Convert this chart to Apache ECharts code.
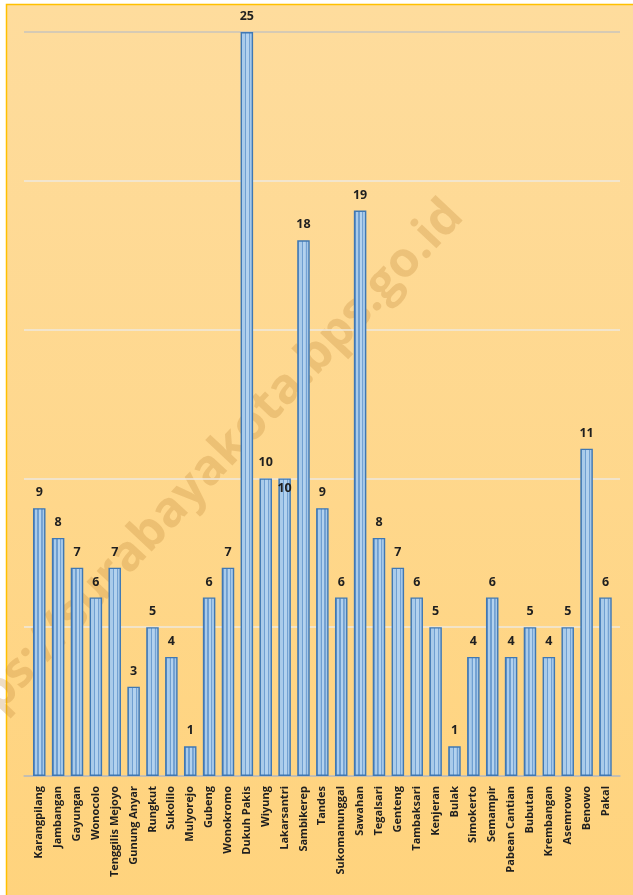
<!DOCTYPE html>
<html>
<head>
<meta charset="utf-8">
<title>Kecamatan</title>
<script src="https://cdn.jsdelivr.net/npm/echarts@6/dist/echarts.min.js"></script>
<style>
    html, body { margin: 0; padding: 0; background: #ffffff; }
    #main { width: 633px; height: 895px; }
</style>
</head>
<body>
<div id="main"></div>
<script>
    // nama kecamatan (urut seperti gambar)
    var kecamatan = ['Karangpilang', 'Jambangan', 'Gayungan', 'Wonocolo', 'Tenggilis Mejoyo',
        'Gunung Anyar', 'Rungkut', 'Sukolilo', 'Mulyorejo', 'Gubeng', 'Wonokromo',
        'Dukuh Pakis', 'Wiyung', 'Lakarsantri', 'Sambikerep', 'Tandes', 'Sukomanunggal',
        'Sawahan', 'Tegalsari', 'Genteng', 'Tambaksari', 'Kenjeran', 'Bulak', 'Simokerto',
        'Semampir', 'Pabean Cantian', 'Bubutan', 'Krembangan', 'Asemrowo', 'Benowo', 'Pakal'];
    var jumlah = [9, 8, 7, 6, 7, 3, 5, 4, 1, 6, 7, 25, 10, 10, 18, 9, 6, 19, 8, 7, 6, 5, 1, 4, 6, 4, 5, 4, 5, 11, 6];
    var yTicks = [0, 5, 10, 15, 20, 25];

    var watermark = 'https://surabayakota.bps.go.id';

    // garis-garis vertikal di batang
    var stripe = new echarts.graphic.LinearGradient(0, 0, 1, 0, [
        { offset: 0, color: '#6796cb' },
        { offset: 0.14, color: '#6796cb' },
        { offset: 0.15, color: '#a9cbea' },
        { offset: 0.35, color: '#a9cbea' },
        { offset: 0.36, color: '#6f9fd1' },
        { offset: 0.46, color: '#6f9fd1' },
        { offset: 0.47, color: '#b3d2ee' },
        { offset: 0.66, color: '#b3d2ee' },
        { offset: 0.67, color: '#74a2d3' },
        { offset: 0.76, color: '#74a2d3' },
        { offset: 0.77, color: '#a6c8e8' },
        { offset: 1, color: '#a6c8e8' }
    ]);

    var barData = jumlah.map(function (v, i) {
        var item = { value: v };
        // label Lakarsantri menumpuk di dalam batang seperti aslinya
        if (kecamatan[i] === 'Lakarsantri') {
            item.label = { offset: [0, 26] };
        }
        return item;
    });

    var myChart = echarts.init(document.getElementById('main'), null, { renderer: 'canvas' });

    var option = {
        animation: false,
        backgroundColor: '#ffffff',
        graphic: [
            {
                type: 'rect',
                z: -10,
                shape: { x: 6.5, y: 4.5, width: 700, height: 1000 },
                style: {
                    fill: new echarts.graphic.LinearGradient(0, 0, 0, 1, [
                        { offset: 0, color: '#fedc9d' },
                        { offset: 1, color: '#ffd279' }
                    ]),
                    stroke: '#ffc000',
                    lineWidth: 1.5
                }
            },
            {
                // watermark miring di belakang batang
                type: 'text',
                z: -5,
                x: 455,
                y: 208,
                rotation: 46.8 * Math.PI / 180,
                style: {
                    text: watermark,
                    fill: 'rgba(196,140,60,0.3)',
                    font: 'bold 49px "Open Sans", sans-serif',
                    align: 'right',
                    verticalAlign: 'middle'
                }
            }
        ],
        grid: [
            { left: 24, right: 13, top: 32, bottom: 119 },
            { left: 29.8, right: 18.1, top: 32, bottom: 119 }
        ],
        xAxis: [
            {
                gridIndex: 0,
                type: 'value',
                min: 0,
                max: 1,
                axisLine: { show: true, onZero: false, lineStyle: { color: '#c0bdb5', width: 1.5 } },
                axisTick: { show: false },
                axisLabel: { show: false },
                splitLine: { show: false }
            },
            {
                gridIndex: 1,
                type: 'category',
                data: kecamatan,
                axisLine: { show: false },
                axisTick: { show: false },
                axisLabel: {
                    interval: 0,
                    rotate: 90,
                    margin: 10,
                    color: '#1f1f1f',
                    fontSize: 11,
                    fontWeight: 'bold',
                    fontFamily: '"Open Sans", sans-serif'
                }
            }
        ],
        yAxis: [
            {
                gridIndex: 0,
                type: 'value',
                min: yTicks[0],
                max: yTicks[yTicks.length - 1],
                interval: 5,
                axisLine: { show: false },
                axisTick: { show: false },
                axisLabel: { show: false },
                splitLine: {
                    lineStyle: {
                        color: ['#c0bdb5', '#eee9df', '#eee9df', '#eee9df', '#eee9df', '#c9c5bd'],
                        width: 1.5
                    }
                }
            },
            {
                gridIndex: 1,
                type: 'value',
                min: yTicks[0],
                max: yTicks[yTicks.length - 1],
                show: false
            }
        ],
        series: [
            {
                type: 'bar',
                xAxisIndex: 1,
                yAxisIndex: 1,
                data: barData,
                barWidth: 12.5,
                itemStyle: {
                    color: stripe,
                    borderColor: '#3f78b4',
                    borderWidth: 1.4
                },
                label: {
                    show: true,
                    position: 'top',
                    distance: 9,
                    color: '#1f1f1f',
                    fontSize: 12.5,
                    fontWeight: 'bold',
                    fontFamily: '"Open Sans", sans-serif'
                }
            }
        ]
    };

    myChart.setOption(option);
</script>
</body>
</html>
